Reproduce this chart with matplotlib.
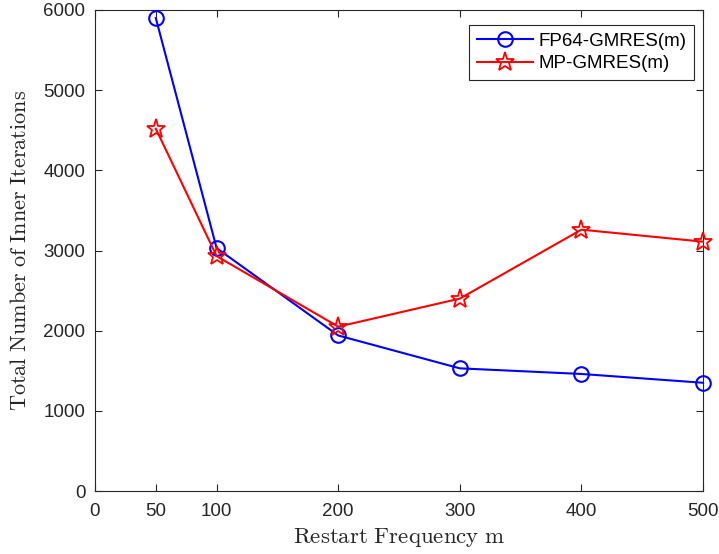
import matplotlib.pyplot as plt

# data
restart_m = [50, 100, 200, 300, 400, 500]
fp64_iters = [5900, 3030, 1940, 1530, 1460, 1350]
mp_iters = [4520, 2930, 2050, 2400, 3260, 3110]
xticks = [0, 50, 100, 200, 300, 400, 500]
yticks = [0, 1000, 2000, 3000, 4000, 5000, 6000]

plt.rcParams['font.family'] = ['Liberation Sans', 'DejaVu Sans']
plt.rcParams['mathtext.fontset'] = 'cm'

W, H = 719, 554
fig = plt.figure(figsize=(W / 100, H / 100), dpi=100)
ax = fig.add_axes([95 / W, 1 - 491 / H, 608 / W, 481 / H])

ax.plot(restart_m, fp64_iters, c='b', lw=1.5, marker='o', ms=10.5, mfc='none', mec='b', mew=1.5,
        label='FP64-GMRES(m)', clip_on=False, zorder=3)
ax.plot(restart_m, mp_iters, c='r', lw=1.5, marker='*', ms=14, mfc='none', mec='r', mew=1.3,
        label='MP-GMRES(m)', clip_on=False, zorder=3)

ax.set_xlim(0, 500)
ax.set_ylim(0, 6000)
ax.set_xticks(xticks)
ax.set_yticks(yticks)
ax.tick_params(direction='in', top=True, right=True, labelsize=13.5, colors='0.15', length=5)
ax.tick_params(axis='x', pad=9)
ax.tick_params(axis='y', pad=7)
for s in ax.spines.values():
    s.set_color('0.15')
    s.set_linewidth(0.8)

ax.set_xlabel(r'$\mathrm{Restart\ Frequency\ m}$', fontsize=16.5, color='0.15', labelpad=4)
ax.set_ylabel(r'$\mathrm{Total\ Number\ of\ Inner\ Iterations}$', fontsize=16, color='0.15', labelpad=9)

leg = ax.legend(loc='upper right', bbox_to_anchor=((694 - 95) / 608, (491 - 25) / 481), borderaxespad=0,
                fontsize=13.5, fancybox=False, edgecolor='0.15', framealpha=1, handlelength=3.0,
                handletextpad=0.3, borderpad=0.4, labelspacing=0.3)
leg.get_frame().set_linewidth(0.8)

fig.savefig('out.png', dpi=100)
